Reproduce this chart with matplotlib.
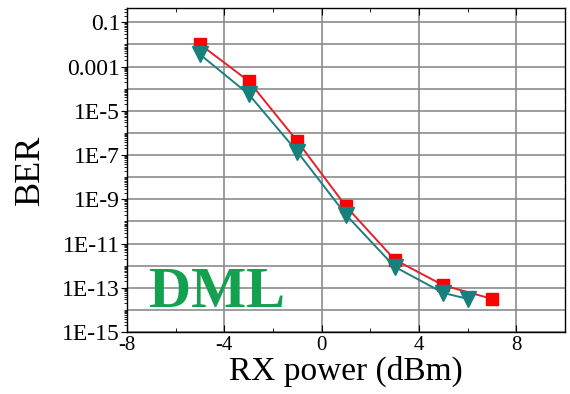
import numpy as np
import matplotlib
matplotlib.use('Agg')
import matplotlib.pyplot as plt
from matplotlib.ticker import FixedLocator, LogLocator, NullFormatter

# data
rx_red = [-5, -3, -1, 1, 3, 5, 7]
ber_red = [1.0e-2, 2.2e-4, 4.2e-7, 4.8e-10, 1.9e-12, 1.3e-13, 3.2e-14]
rx_teal = [-5, -3, -1, 1, 3, 5, 6]
ber_teal = [3.5e-3, 5.6e-5, 1.4e-7, 2.0e-10, 9.0e-13, 5.9e-14, 3.2e-14]

y_ticks = [1e-1, 1e-3, 1e-5, 1e-7, 1e-9, 1e-11, 1e-13, 1e-15]
y_labels = ['0.1', '0.001', '1E-5', '1E-7', '1E-9', '1E-11', '1E-13', '1E-15']
x_ticks = [-8, -4, 0, 4, 8]

plt.rcParams['font.family'] = ['Liberation Serif', 'DejaVu Serif']
plt.rcParams['axes.unicode_minus'] = False

fig = plt.figure(figsize=(5.7, 3.94), dpi=100)
ax = fig.add_axes([0.223, 0.157, 0.768, 0.823])

ax.plot(rx_red, ber_red, color='#e8202a', lw=1.4, marker='s', ms=9,
        mfc='#ff0000', mec='#ff0000', zorder=3)
ax.plot(rx_teal, ber_teal, color='#1d7f7c', lw=1.4, marker='v', ms=11.5,
        mfc='#16807d', mec='#16807d', zorder=4)

ax.set_yscale('log')
ax.set_xlim(-8, 10)
ax.set_ylim(1e-15, 10 ** -0.35)

ax.yaxis.set_major_locator(FixedLocator(y_ticks))
ax.set_yticklabels(y_labels)
ax.yaxis.set_minor_locator(LogLocator(base=10, subs=np.arange(1, 10), numticks=40))
ax.yaxis.set_minor_formatter(NullFormatter())
ax.set_xticks(x_ticks)
ax.set_xticks([-6, -2, 2, 6], minor=True)

# grid every decade and every 4 dBm
for e in range(-15, 0):
    ax.axhline(10.0 ** e, color='#8c8c8c', lw=1.2, zorder=1)
for xv in [-4, 0, 4, 8]:
    ax.axvline(xv, color='#8c8c8c', lw=1.2, zorder=1)

ax.tick_params(axis='x', which='both', direction='in', top=True, labelsize=15, pad=3)
ax.tick_params(axis='x', which='major', length=5)
ax.tick_params(axis='x', which='minor', length=3)
ax.tick_params(axis='y', which='major', direction='out', length=4, labelsize=17, pad=1)
ax.tick_params(axis='y', which='minor', direction='out', length=2)

for s in ax.spines.values():
    s.set_linewidth(1.0)

ax.set_xlabel('RX power (dBm)', fontsize=24, labelpad=0)
ax.set_ylabel('BER', fontsize=26, labelpad=11)

ax.text(-7.1, 1.3e-14, 'DML', color='#13a150', fontsize=42, fontweight='bold',
        ha='left', va='baseline', zorder=5)

fig.savefig('out.png', dpi=100)
